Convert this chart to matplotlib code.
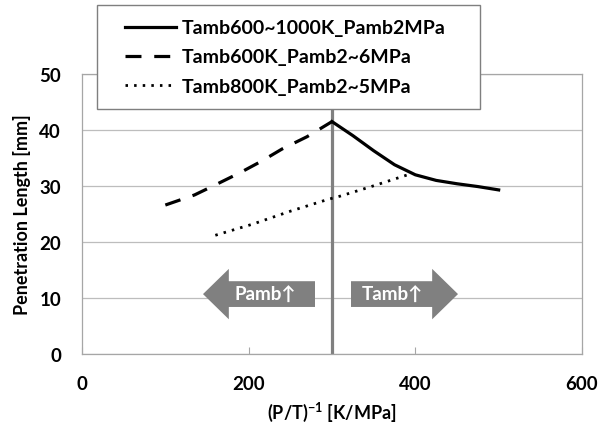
import matplotlib
matplotlib.use("Agg")
import matplotlib.pyplot as plt
from matplotlib.patches import FancyArrow, Rectangle

plt.rcParams['font.family'] = ['Lato', 'DejaVu Sans']
plt.rcParams['font.weight'] = 'bold'
plt.rcParams['mathtext.fontset'] = 'custom'
plt.rcParams['mathtext.rm'] = 'Lato:bold'
plt.rcParams['mathtext.bf'] = 'Lato:bold'

# ---- data ----
x_tamb = [300, 325, 350, 375, 400, 425, 450, 475, 500]
y_tamb = [41.5, 39.0, 36.3, 33.8, 32.0, 31.0, 30.4, 29.9, 29.3]

x_pamb600 = [100, 135, 160, 190, 215, 240, 270, 300]
y_pamb600 = [26.6, 28.4, 30.2, 32.4, 34.4, 36.6, 38.8, 41.5]

x_pamb800 = [160, 205, 250, 295, 310, 345, 395]
y_pamb800 = [21.2, 23.2, 25.5, 27.6, 28.2, 29.8, 32.2]

labels = ['Tamb600~1000K_Pamb2MPa', 'Tamb600K_Pamb2~6MPa', 'Tamb800K_Pamb2~5MPa']
xticks = [0, 200, 400, 600]
yticks = [0, 10, 20, 30, 40, 50]

grey = '#808080'

fig = plt.figure(figsize=(6.09, 4.31), dpi=100)
ax = fig.add_axes([82/609, 76/431, 500/609, 280/431])

l1, = ax.plot(x_tamb, y_tamb, color='black', lw=2.3, solid_joinstyle='round')
l2, = ax.plot(x_pamb600, y_pamb600, color='black', lw=2.3, dashes=(5, 4))
l3, = ax.plot(x_pamb800, y_pamb800, color='black', lw=2.0, dashes=(0.9, 2.2))

ax.axvline(300, color=grey, lw=2.3, zorder=1)

ax.set_xlim(0, 600)
ax.set_ylim(0, 50)
ax.set_xticks(xticks)
ax.set_yticks(yticks)
ax.grid(axis='y', color='#bdbdbd', lw=0.9, zorder=0)
ax.set_axisbelow(True)
for s in ax.spines.values():
    s.set_color('#a6a6a6')
    s.set_linewidth(0.9)
ax.tick_params(axis='x', direction='in', length=5, color='#a6a6a6', pad=15, labelsize=13.5)
ax.tick_params(axis='y', length=0, pad=15, labelsize=13.5)
for t in ax.get_xticklabels() + ax.get_yticklabels():
    t.set_fontweight('bold')

ax.set_xlabel(r'(P/T)$^{-1}$ [K/MPa]', fontsize=13, fontweight='bold', labelpad=6)
ax.set_ylabel('Penetration Length [mm]', fontsize=13, fontweight='bold', labelpad=6)

# arrows
ax.add_patch(FancyArrow(279.6, 10.7, -134.4, 0, width=4.6, head_width=9.0, head_length=31,
                        length_includes_head=True, color=grey, lw=0, zorder=3))
ax.add_patch(FancyArrow(322.8, 10.7, 128.4, 0, width=4.6, head_width=9.0, head_length=31,
                        length_includes_head=True, color=grey, lw=0, zorder=3))
ax.text(220, 10.7, 'Pamb↑', color='white', fontsize=13.5, fontweight='bold',
        ha='center', va='center', zorder=4)
ax.text(373, 10.7, 'Tamb↑', color='white', fontsize=13.5, fontweight='bold',
        ha='center', va='center', zorder=4)

# legend box drawn separately, legend itself without frame
box = Rectangle((97/609, 1 - 110/431), 383/609, 104/431, transform=fig.transFigure,
                facecolor='white', edgecolor='#7f7f7f', lw=1.0, zorder=9)
fig.patches.append(box)
leg = fig.legend([l1, l2, l3], labels, loc='center left',
                 bbox_to_anchor=(125/609, 1 - 58/431), frameon=False,
                 prop={'size': 14, 'weight': 'bold'},
                 handlelength=2.6, handletextpad=0.3, labelspacing=0.62,
                 borderpad=0, borderaxespad=0)
leg.set_zorder(10)

fig.savefig('out.png', dpi=100)
